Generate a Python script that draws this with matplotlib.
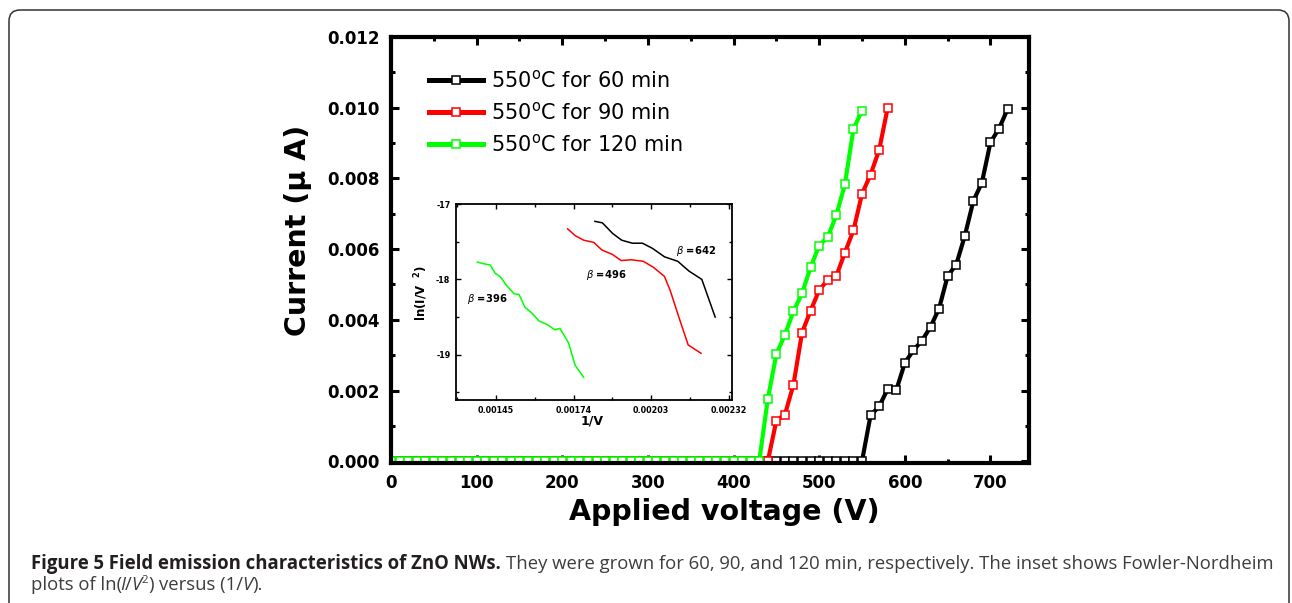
import numpy as np
import matplotlib
matplotlib.use('Agg')
import matplotlib.pyplot as plt
from matplotlib.ticker import MultipleLocator, FormatStrFormatter, FixedLocator
from matplotlib.patches import FancyBboxPatch
import matplotlib.transforms as mtransforms

W, H, DPI = 1292, 603, 100
plt.rcParams['axes.unicode_minus'] = False
plt.rcParams['font.family'] = ['DejaVu Sans']

# ---------------- data: main I-V curves (10 V steps) ----------------
voltage_60 = np.arange(0, 730, 10)
current_60 = [
    0.0, 0.0, 0.0, 0.0, 0.0, 0.0, 0.0, 0.0, 0.0, 0.0,
    0.0, 0.0, 0.0, 0.0, 0.0, 0.0, 0.0, 0.0, 0.0, 0.0,
    0.0, 0.0, 0.0, 0.0, 0.0, 0.0, 0.0, 0.0, 0.0, 0.0,
    0.0, 0.0, 0.0, 0.0, 0.0, 0.0, 0.0, 0.0, 0.0, 0.0,
    0.0, 0.0, 0.0, 0.0, 0.0, 0.0, 0.0, 0.0, 0.0, 0.0,
    0.0, 0.0, 0.0, 0.0, 0.0, 0.0,
    0.00130, 0.00155, 0.00204, 0.00201, 0.00278, 0.00314, 0.00341,
    0.00380, 0.00432, 0.00524, 0.00556, 0.00637, 0.00736, 0.00788,
    0.00902, 0.00941, 0.00996]

voltage_90 = np.arange(0, 590, 10)
current_90 = [
    0.0, 0.0, 0.0, 0.0, 0.0, 0.0, 0.0, 0.0, 0.0, 0.0,
    0.0, 0.0, 0.0, 0.0, 0.0, 0.0, 0.0, 0.0, 0.0, 0.0,
    0.0, 0.0, 0.0, 0.0, 0.0, 0.0, 0.0, 0.0, 0.0, 0.0,
    0.0, 0.0, 0.0, 0.0, 0.0, 0.0, 0.0, 0.0, 0.0, 0.0,
    0.0, 0.0, 0.0, 0.0, 0.0,
    0.00115, 0.00132, 0.00217, 0.00364, 0.00426, 0.00484, 0.00513,
    0.00524, 0.00590, 0.00653, 0.00756, 0.00811, 0.00880, 0.01000]

voltage_120 = np.arange(0, 560, 10)
current_120 = [
    0.0, 0.0, 0.0, 0.0, 0.0, 0.0, 0.0, 0.0, 0.0, 0.0,
    0.0, 0.0, 0.0, 0.0, 0.0, 0.0, 0.0, 0.0, 0.0, 0.0,
    0.0, 0.0, 0.0, 0.0, 0.0, 0.0, 0.0, 0.0, 0.0, 0.0,
    0.0, 0.0, 0.0, 0.0, 0.0, 0.0, 0.0, 0.0, 0.0, 0.0,
    0.0, 0.0, 0.0, 0.0,
    0.00176, 0.00303, 0.00358, 0.00424, 0.00475, 0.00549, 0.00610,
    0.00634, 0.00696, 0.00783, 0.00940, 0.00992]

series_labels = ['550$^{\\rm o}$C for 60 min', '550$^{\\rm o}$C for 90 min',
                 '550$^{\\rm o}$C for 120 min']
series_colors = ['#000000', '#ff0000', '#00ff00']

# ---------------- data: inset F-N plots ----------------
fn_x_60 = [0.001820, 0.001848, 0.001886, 0.001920, 0.001960, 0.001998,
           0.002036, 0.002080, 0.002130, 0.002172, 0.002220, 0.002270]
fn_y_60 = [-17.23, -17.25, -17.39, -17.48, -17.52, -17.52,
           -17.59, -17.70, -17.76, -17.89, -18.00, -18.50]
fn_x_90 = [0.001718, 0.001746, 0.001778, 0.001816, 0.001846, 0.001886,
           0.001918, 0.001956, 0.002001, 0.002039, 0.002080, 0.002102,
           0.002134, 0.002169, 0.002217]
fn_y_90 = [-17.33, -17.42, -17.48, -17.51, -17.61, -17.67,
           -17.75, -17.74, -17.76, -17.84, -17.96, -18.15,
           -18.50, -18.87, -18.98]
fn_x_120 = [0.001380, 0.001400, 0.001428, 0.001447, 0.001467, 0.001489,
            0.001517, 0.001536, 0.001558, 0.001585, 0.001610, 0.001642,
            0.001670, 0.001689, 0.001721, 0.001746, 0.001778]
fn_y_120 = [-17.77, -17.79, -17.81, -17.92, -17.97, -18.08,
            -18.19, -18.20, -18.37, -18.45, -18.55, -18.60,
            -18.67, -18.65, -18.84, -19.14, -19.30]
beta_labels = ['642', '496', '396']
beta_pos = [(0.002125, -17.63), (0.001788, -17.94), (0.001340, -18.26)]
inset_xticks = [0.00145, 0.00174, 0.00203, 0.00232]
inset_yticks = [-17, -18, -19]

caption_bold = 'Figure 5 Field emission characteristics of ZnO NWs.'
caption_rest = ('They were grown for 60, 90, and 120 min, respectively. '
                'The inset shows Fowler-Nordheim')

# ---------------- figure ----------------
fig = plt.figure(figsize=(W / DPI, H / DPI), dpi=DPI, facecolor='white')
px = mtransforms.Affine2D().scale(1.0 / W, 1.0 / H) + fig.transFigure

border = FancyBboxPatch((9, -30), 1280, 623, boxstyle='round,pad=0,rounding_size=11',
                        transform=px, facecolor='none', edgecolor='#333333',
                        linewidth=1.1)
fig.add_artist(border)

ax = fig.add_axes([391 / W, 1 - 463 / H, (1029 - 391) / W, (463 - 37) / H])
for v, c, col, lab in zip([voltage_60, voltage_90, voltage_120],
                          [current_60, current_90, current_120],
                          series_colors, series_labels):
    ax.plot(v, c, '-s', color=col, lw=3.0, ms=5.6, mfc='white', mec=col,
            mew=1.1, label=lab)

ax.set_xlim(0, 745)
ax.set_ylim(-0.00005, 0.012)
ax.xaxis.set_major_locator(MultipleLocator(100))
ax.xaxis.set_minor_locator(MultipleLocator(50))
ax.yaxis.set_major_locator(MultipleLocator(0.002))
ax.yaxis.set_minor_locator(MultipleLocator(0.001))
ax.yaxis.set_major_formatter(FormatStrFormatter('%.3f'))
ax.tick_params(which='both', direction='in', top=True, right=True, width=2.2)
ax.tick_params(which='major', length=5.5, labelsize=12, pad=8)
ax.tick_params(which='minor', length=3)
for lbl in ax.get_xticklabels() + ax.get_yticklabels():
    lbl.set_fontweight('bold')
for s in ax.spines.values():
    s.set_linewidth(3.0)

ax.set_xlabel('Applied voltage (V)', fontsize=20.5, fontweight='bold')
ax.xaxis.set_label_coords(0.522, -0.083)
ax.set_ylabel('Current (\u03bc A)', fontsize=20.5, fontweight='bold')
ax.yaxis.set_label_coords(-0.124, 0.545)

leg = ax.legend(loc='upper left', bbox_to_anchor=(0.059, 0.925), frameon=False,
                fontsize=15, handlelength=2.6, handletextpad=0.4,
                labelspacing=0.5, borderpad=0, borderaxespad=0)
for h in leg.legend_handles:
    h.set_linewidth(3.6)

# ---------------- inset ----------------
axi = fig.add_axes([456 / W, 1 - 400 / H, 276 / W, 196 / H])
axi.plot(fn_x_60, fn_y_60, color=series_colors[0], lw=1.1)
axi.plot(fn_x_90, fn_y_90, color=series_colors[1], lw=1.1)
axi.plot(fn_x_120, fn_y_120, color=series_colors[2], lw=1.1)
for b, (bx, by) in zip(beta_labels, beta_pos):
    axi.text(bx, by, r'$\beta$ =' + b, fontsize=7.2, fontweight='bold',
             ha='left', va='center')
axi.set_xlim(0.0013, 0.002333)
axi.set_ylim(-19.6, -17.0)
axi.xaxis.set_major_locator(FixedLocator(inset_xticks))
axi.xaxis.set_minor_locator(FixedLocator([0.001305, 0.001595, 0.001885, 0.002175]))
axi.xaxis.set_major_formatter(FormatStrFormatter('%.5f'))
axi.yaxis.set_major_locator(FixedLocator(inset_yticks))
axi.yaxis.set_minor_locator(FixedLocator([-17.5, -18.5, -19.5]))
axi.yaxis.set_major_formatter(FormatStrFormatter('%d'))
axi.tick_params(which='both', direction='in', top=True, right=True, width=1.0)
axi.tick_params(which='major', length=3.5, labelsize=5.8, pad=4)
axi.tick_params(which='minor', length=2)
for lbl in axi.get_xticklabels() + axi.get_yticklabels():
    lbl.set_fontweight('bold')
for s in axi.spines.values():
    s.set_linewidth(1.3)
axi.set_xlabel('1/V', fontsize=9, fontweight='bold')
axi.xaxis.set_label_coords(0.493, -0.075)
axi.set_ylabel(r'ln(I/V  $^{\mathbf{2}}$)', fontsize=8.5, fontweight='bold')
axi.yaxis.set_label_coords(-0.095, 0.545)

# ---------------- caption ----------------
renderer = fig.canvas.get_renderer()
cap_fs = 13.35
cap_font = ['Open Sans', 'DejaVu Sans']
space_px = 0.26 * cap_fs * DPI / 72.0

bold_kw = dict(fontsize=cap_fs, fontweight='bold', color='#231f20')
reg_kw = dict(fontsize=cap_fs, color='#3d3d3d')
it_kw = dict(fontsize=cap_fs, color='#3d3d3d', fontstyle='italic')
sup_kw = dict(fontsize=cap_fs * 0.62, color='#3d3d3d')


def put_runs(x0, y0, runs):
    x = x0
    for txt, kw, dy, gap in runs:
        if txt == ' ':
            x += space_px
            continue
        t = fig.text(x, y0 + dy, txt, transform=px, ha='left', va='baseline',
                     family=cap_font, **kw)
        x += t.get_window_extent(renderer).width + gap


put_runs(31, H - 569, [(caption_bold, bold_kw, 0, 0.8), (' ', None, 0, 0),
                       (caption_rest, reg_kw, 0, 0)])
put_runs(31, H - 590, [('plots of ln(', reg_kw, 0, -1.8), ('I', it_kw, 0, -0.3),
                       ('/', reg_kw, 0, -0.8), ('V', it_kw, 0, 0.3),
                       ('2', sup_kw, 7, 0.6), (')', reg_kw, 0, 0),
                       (' ', None, 0, 0), ('versus (1/', reg_kw, 0, -0.5),
                       ('V', it_kw, 0, 0.3), (').', reg_kw, 0, 0)])

fig.savefig('out.png', dpi=DPI, facecolor='white')
